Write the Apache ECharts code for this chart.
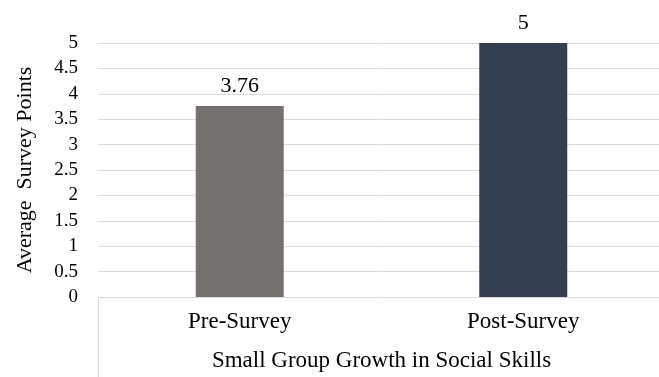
<!DOCTYPE html>
<html>
<head>
<meta charset="utf-8">
<style>
  html, body { margin: 0; padding: 0; background: #ffffff; overflow: hidden; }
  #chart { width: 665px; height: 377px; }
</style>
<script src="https://cdn.jsdelivr.net/npm/echarts@6/dist/echarts.min.js"></script>
</head>
<body>
<div id="chart"></div>
<script>
// Survey categories and their average points
const categories = ['Pre-Survey', 'Post-Survey'];
const averagePoints = [3.76, 5];
const barColors = ['#767171', '#333F50'];
const yMin = 0;
const yMax = 5;
const yStep = 0.5;

const FONT = '"Liberation Serif", "Times New Roman", serif';
const TEXT = '#000000';
const GRID_LINE = '#d9d9d9';

const chart = echarts.init(document.getElementById('chart'), null, { renderer: 'canvas' });

const option = {
  backgroundColor: '#ffffff',
  animation: false,
  grid: { left: 98, top: 43, right: 0, bottom: 78, containLabel: false },
  xAxis: {
    type: 'category',
    data: categories,
    name: 'Small Group Growth in Social Skills',
    nameLocation: 'middle',
    nameGap: 52,
    nameTextStyle: { fontFamily: FONT, fontSize: 23, color: TEXT },
    axisLine: { show: true, lineStyle: { color: GRID_LINE, width: 1 } },
    axisTick: { show: false },
    axisLabel: { fontFamily: FONT, fontSize: 23, color: TEXT, margin: 13 }
  },
  yAxis: {
    type: 'value',
    min: yMin,
    max: yMax,
    interval: yStep,
    name: 'Average  Survey Points',
    nameLocation: 'middle',
    nameGap: 62,
    nameTextStyle: { fontFamily: FONT, fontSize: 22, color: TEXT },
    axisLine: { show: false },
    axisTick: { show: false },
    axisLabel: { fontFamily: FONT, fontSize: 19, color: TEXT, margin: 20 },
    splitLine: { show: true, lineStyle: { color: GRID_LINE, width: 1 } }
  },
  series: [{
    type: 'bar',
    barWidth: 88,
    data: averagePoints.map((v, i) => ({ value: v, itemStyle: { color: barColors[i] } })),
    label: {
      show: true,
      position: 'top',
      distance: 9,
      fontFamily: FONT,
      fontSize: 22,
      color: TEXT
    }
  }]
};

chart.setOption(option);

// Left divider below the category axis, placed at the grid's left edge
const origin = chart.convertToPixel({ gridIndex: 0 }, [0, 0]);
const gridLeft = option.grid.left;
chart.setOption({
  graphic: [{
    type: 'line',
    shape: { x1: gridLeft + 0.5, y1: Math.round(origin[1]), x2: gridLeft + 0.5, y2: 377 },
    style: { stroke: GRID_LINE, lineWidth: 1 },
    silent: true
  }]
});
</script>
</body>
</html>
